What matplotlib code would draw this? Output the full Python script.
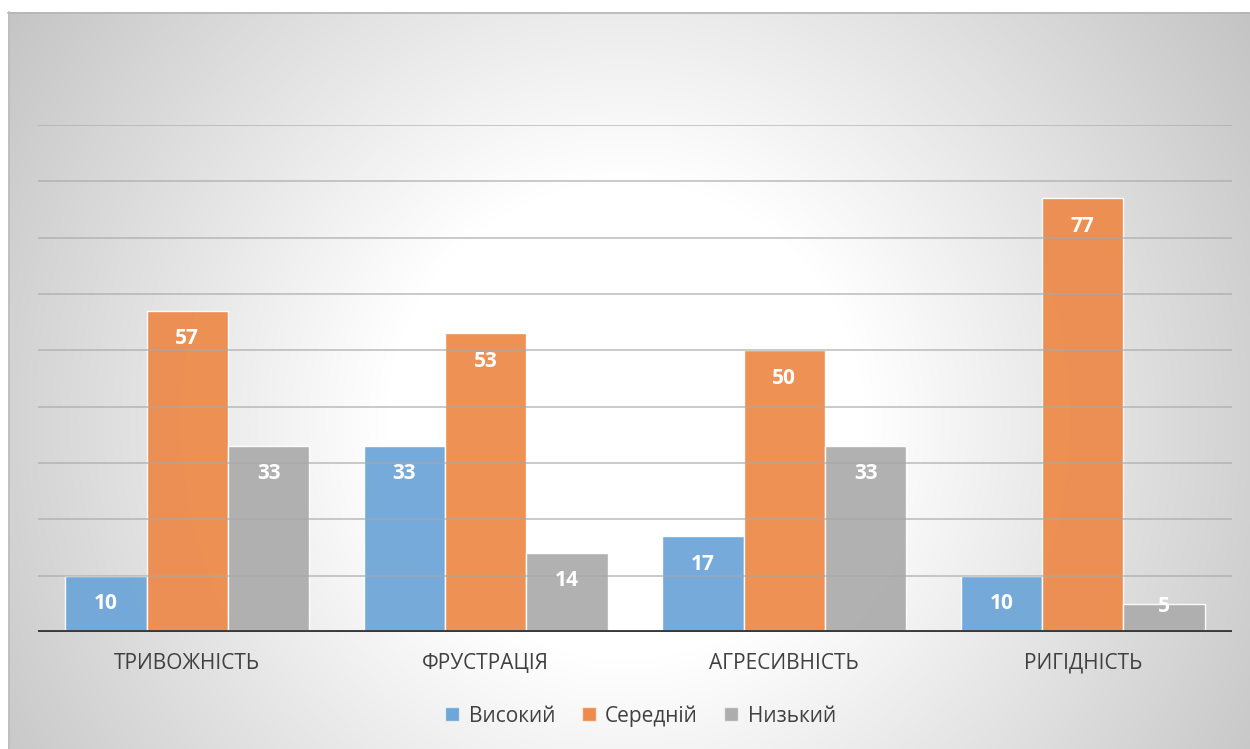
import numpy as np
import matplotlib

matplotlib.use("Agg")

import matplotlib.pyplot as plt
from matplotlib.lines import Line2D

plt.rcParams["font.family"] = ["Open Sans", "DejaVu Sans"]

categories = ["ТРИВОЖНІСТЬ", "ФРУСТРАЦІЯ", "АГРЕСИВНІСТЬ", "РИГІДНІСТЬ"]
series_names = ["Високий", "Середній", "Низький"]
high = [10, 33, 17, 10]
medium = [57, 53, 50, 77]
low = [33, 14, 33, 5]

colors = ["#6fa6d8", "#ed8b4c", "#adadad"]

W, H = 1250, 749
fig = plt.figure(figsize=(W / 100, H / 100), dpi=100)
fig.patch.set_facecolor("white")

# chart area with a soft radial gradient
bg = fig.add_axes([8 / W, 0, (W - 8) / W, (H - 12) / H])
xx, yy = np.meshgrid(np.arange(8, W), np.arange(12, H))
r = np.hypot(xx - 625, yy - 420)
shade = np.clip(283 - 0.117 * r, 0, 255) / 255
bg.imshow(np.dstack([shade, shade, shade]), aspect="auto", interpolation="bilinear")
bg.set_axis_off()
fig.add_artist(Line2D([8 / W, 1], [1 - 12.5 / H, 1 - 12.5 / H], color="#b5b5b5", lw=1.2))
fig.add_artist(Line2D([8.5 / W, 8.5 / W], [0, 1 - 12 / H], color="#bdbdbd", lw=1.2))

ax = fig.add_axes([38 / W, (H - 632) / H, 1194 / W, 507 / H])
ax.set_facecolor("none")

x = np.arange(len(categories))
width = 0.273
for i, (vals, name) in enumerate(zip([high, medium, low], series_names)):
    bars = ax.bar(x + (i - 1) * width, vals, width, color=colors[i], alpha=0.95,
                  edgecolor=(1, 1, 1, 0.6), linewidth=1.0, label=name, zorder=2)
    for b, v in zip(bars, vals):
        off = -20 if v >= 10 else -2
        ax.annotate(str(v), (b.get_x() + b.get_width() / 2, v), xytext=(0, off),
                    textcoords="offset points", ha="center", va="center",
                    color="white", fontsize=15, fontweight="bold", zorder=4)

for g in range(10, 100, 10):
    ax.axhline(g, color="#a8a8a8", lw=1.2, alpha=0.7, zorder=3)
ax.axhline(0, color="#3a3a3a", lw=2.8, zorder=4)

ax.set_xlim(-0.5, 3.5)
ax.set_ylim(0, 90)
ax.set_yticks([])
ax.set_xticks(x)
ax.set_xticklabels(categories, fontsize=15, color="#404040")
ax.tick_params(axis="x", length=0, pad=15)
for s in ax.spines.values():
    s.set_visible(False)

handles = [Line2D([], [], marker="s", linestyle="none", markersize=10,
                  markerfacecolor=c, markeredgecolor=(1, 1, 1, 0.6)) for c in colors]
fig.legend(handles, series_names, loc="center", bbox_to_anchor=(640 / W, 1 - 716 / H),
           ncol=3, frameon=False, fontsize=15, labelcolor="#404040",
           handletextpad=0.4, columnspacing=1.2, handlelength=0.8)

fig.savefig("out.png", dpi=100)
